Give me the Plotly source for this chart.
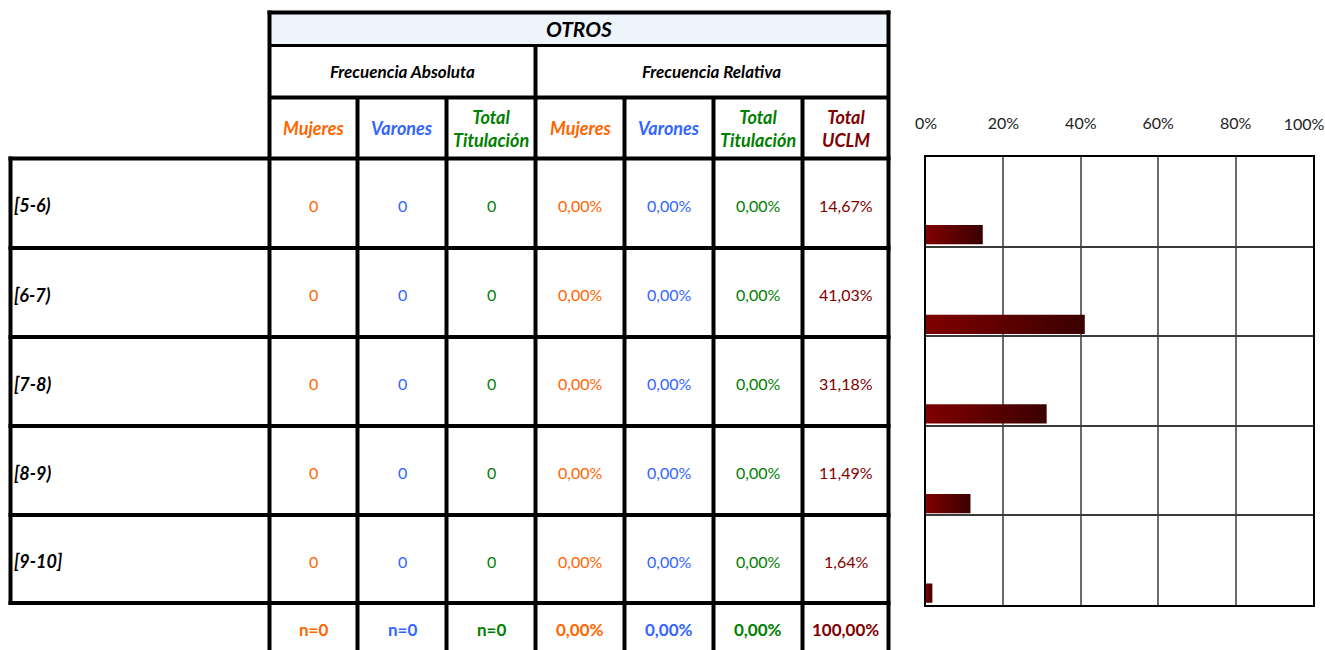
import plotly.graph_objects as go

# ---------------- data ----------------
categories = ["[5-6)", "[6-7)", "[7-8)", "[8-9)", "[9-10]"]
mujeres_abs = [0, 0, 0, 0, 0]
varones_abs = [0, 0, 0, 0, 0]
titulacion_abs = [0, 0, 0, 0, 0]
mujeres_rel = [0.00, 0.00, 0.00, 0.00, 0.00]
varones_rel = [0.00, 0.00, 0.00, 0.00, 0.00]
titulacion_rel = [0.00, 0.00, 0.00, 0.00, 0.00]
uclm_rel = [14.67, 41.03, 31.18, 11.49, 1.64]
total_labels = ["n=0", "n=0", "n=0"]
total_rel = [0.00, 0.00, 0.00, 100.00]
x_ticks = [0, 20, 40, 60, 80, 100]

title = "OTROS"
group_headers = ["Frecuencia Absoluta", "Frecuencia Relativa"]
col_headers = ["Mujeres", "Varones", "Total<br>Titulación",
               "Mujeres", "Varones", "Total<br>Titulación", "Total<br>UCLM"]

# ---------------- styling ----------------
W, H = 1325, 650
ORANGE, BLUE, GREEN, DRED = "#FF6600", "#3366FF", "#008000", "#800000"
col_colors = [ORANGE, BLUE, GREEN, ORANGE, BLUE, GREEN, DRED]
FONT = "Lato"


def X(px):
    return px / W


def Y(py):
    return 1 - py / H


def pct(v):
    return f"{v:.2f}%".replace(".", ",")


fig = go.Figure()

# ---------------- bar chart ----------------
BAR_TOP, BAR_BOT = 0.76, 0.975
for i, v in enumerate(uclm_rel):
    fig.add_trace(go.Scatter(
        x=[0, v / 100, v / 100, 0, 0],
        y=[i + BAR_TOP, i + BAR_TOP, i + BAR_BOT, i + BAR_BOT, i + BAR_TOP],
        mode="lines", fill="toself", line=dict(width=0),
        fillgradient=dict(type="horizontal",
                          colorscale=[[0, "#800000"], [1, "#3a0000"]]),
        name=categories[i], showlegend=False, hoverinfo="skip"))
# empty trace so the overlay axis for the last tick label is rendered
fig.add_trace(go.Scatter(x=[], y=[], xaxis="x2", yaxis="y",
                         showlegend=False, hoverinfo="skip"))

tick_text = [f"{t}%" for t in x_ticks]
tick_font = dict(family=FONT, size=16, color="#222")
x_dom = [X(926), X(1313)]

fig.update_layout(
    xaxis=dict(domain=x_dom, range=[0, 1], side="top",
               tickvals=[t / 100 for t in x_ticks[:-1]],
               ticktext=tick_text[:-1],
               showgrid=True, gridcolor="#6b6b6b", gridwidth=2,
               zeroline=False, showline=True, mirror=True,
               linecolor="black", linewidth=1.5, automargin=False,
               ticks="outside", ticklen=20, tickcolor="rgba(0,0,0,0)",
               tickfont=tick_font, fixedrange=True),
    xaxis2=dict(domain=x_dom, range=[0, 1], side="top", overlaying="x",
                anchor="y",
                tickvals=[x_ticks[-1] / 100], ticktext=[tick_text[-1]],
                ticklabelshift=-9,
                showgrid=False, zeroline=False, showline=False,
                automargin=False,
                ticks="outside", ticklen=20, tickcolor="rgba(0,0,0,0)",
                tickfont=tick_font, fixedrange=True),
    yaxis=dict(domain=[Y(605), Y(157)], range=[5, 0],
               tickvals=[0, 1, 2, 3, 4, 5], showticklabels=False,
               showgrid=True, gridcolor="#3a3a3a", gridwidth=2,
               zeroline=False, showline=True, mirror=True, automargin=False,
               linecolor="black", linewidth=1.5, fixedrange=True),
)

# ---------------- table ----------------
shapes = []
annots = []


def hline(y, x0, x1, w=4):
    shapes.append(dict(type="line", xref="paper", yref="paper",
                       x0=X(x0), x1=X(x1), y0=Y(y), y1=Y(y),
                       line=dict(color="black", width=w)))


def vline(x, y0, y1, w=4):
    shapes.append(dict(type="line", xref="paper", yref="paper",
                       x0=X(x), x1=X(x), y0=Y(y0), y1=Y(y1),
                       line=dict(color="black", width=w)))


def text(x, y, s, color="black", size=14, bold=False, italic=False,
         xanchor="center"):
    if bold:
        s = f"<b>{s}</b>"
    if italic:
        s = f"<i>{s}</i>"
    annots.append(dict(x=X(x), y=Y(y), xref="paper", yref="paper",
                       text=s, showarrow=False, xanchor=xanchor,
                       yanchor="middle",
                       font=dict(family=FONT, size=size, color=color)))


# title band background
shapes.append(dict(type="rect", xref="paper", yref="paper",
                   x0=X(271), x1=X(887), y0=Y(44), y1=Y(14),
                   fillcolor="#eef4fb", line=dict(width=0), layer="below"))

col_x = [269.5, 357.5, 446.5, 535.5, 624.5, 713.5, 802.5, 888.5]
row_y = [158.5, 248, 337, 426, 515, 603]

hline(12.5, 267.5, 890.5)
hline(45.5, 269.5, 888.5, 3)
hline(97.5, 269.5, 888.5)
for ry in row_y:
    hline(ry, 8.5, 890.5)
vline(col_x[0], 10.5, 650)
vline(col_x[-1], 10.5, 650)
vline(col_x[3], 45.5, 650)
for cx in col_x[1:3] + col_x[4:7]:
    vline(cx, 97.5, 650)
vline(10.5, 156.5, 605)

# header texts
text((col_x[0] + col_x[-1]) / 2, 29, title, size=21, bold=True, italic=True)
text((col_x[0] + col_x[3]) / 2, 71, group_headers[0], size=17, bold=True,
     italic=True)
text((col_x[3] + col_x[-1]) / 2, 71, group_headers[1], size=17, bold=True,
     italic=True)
for j, h in enumerate(col_headers):
    cx = (col_x[j] + col_x[j + 1]) / 2
    text(cx, 128, h, color=col_colors[j], size=18, bold=True, italic=True)

# body
for i, cat in enumerate(categories):
    cy = (row_y[i] + row_y[i + 1]) / 2 + 2
    text(12, cy, cat, size=18, bold=True, italic=True, xanchor="left")
    vals = [str(mujeres_abs[i]), str(varones_abs[i]), str(titulacion_abs[i]),
            pct(mujeres_rel[i]), pct(varones_rel[i]), pct(titulacion_rel[i]),
            pct(uclm_rel[i])]
    for j, s in enumerate(vals):
        cx = (col_x[j] + col_x[j + 1]) / 2
        text(cx, cy, s, color=col_colors[j], size=16)

# totals row
tot = total_labels + [pct(v) for v in total_rel]
for j, s in enumerate(tot):
    cx = (col_x[j] + col_x[j + 1]) / 2
    text(cx, 629, s, color=col_colors[j], size=17, bold=True)

fig.update_layout(width=W, height=H, margin=dict(l=0, r=0, t=0, b=0),
                  paper_bgcolor="white", plot_bgcolor="white",
                  shapes=shapes, annotations=annots, showlegend=False)

fig.write_html("out.html", config={"displayModeBar": False},
               post_script="document.body.style.margin='0';"
                           "document.body.style.overflow='hidden';")
